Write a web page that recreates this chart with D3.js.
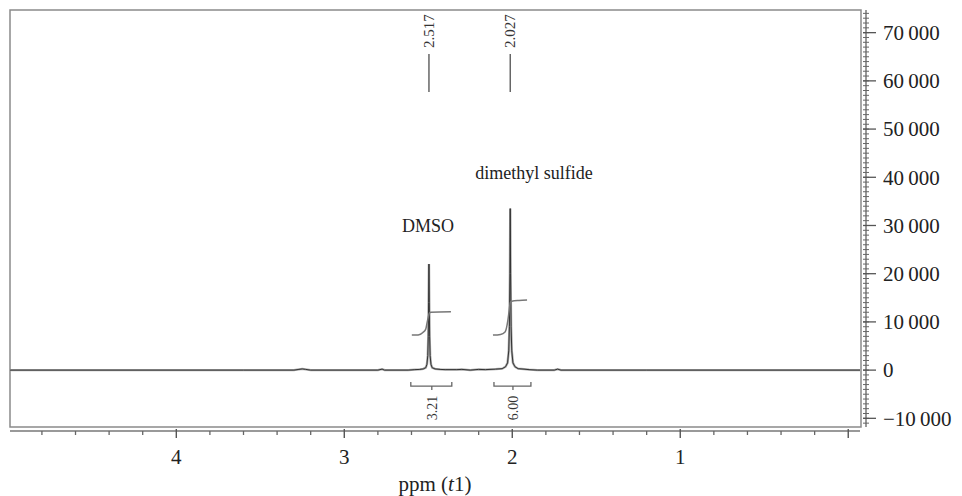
<!DOCTYPE html>
<html>
<head>
<meta charset="utf-8">
<script src="https://cdn.jsdelivr.net/npm/d3@7"></script>
<style>
	body { margin: 0; background: #fff; }
	svg { display: block; font-family: "Liberation Serif", "Times New Roman", serif; }
</style>
</head>
<body>
<svg width="962" height="496"></svg>
<script>
// spectrum points: [ppm, intensity]
const spectrum = [
	[4.99, 0], [3.60, 0], [3.30, 0], [3.27, 150], [3.25, 250], [3.23, 150], [3.20, 0],
	[2.80, 0], [2.775, 200], [2.76, 0], [2.62, 0], [2.58, 100], [2.55, 150], [2.53, 250],
	[2.515, 500], [2.508, 1200], [2.503, 3000], [2.500, 7000], [2.498, 14000],
	[2.496, 22000], [2.494, 14000], [2.492, 7000], [2.489, 3000], [2.484, 1200],
	[2.477, 500], [2.46, 250], [2.43, 150], [2.40, 100], [2.33, 100], [2.30, 150],
	[2.25, 0], [2.20, 150], [2.16, 100], [2.10, 200], [2.06, 300], [2.04, 700],
	[2.028, 1500], [2.021, 4000], [2.017, 9000], [2.014, 20000], [2.012, 33500],
	[2.010, 20000], [2.007, 9000], [2.003, 4000], [1.996, 1500], [1.984, 700],
	[1.965, 300], [1.93, 200], [1.90, 100], [1.85, 0], [1.75, 0], [1.73, 200],
	[1.71, 0], [1.20, 0], [-0.07, 0]
];

// integral curves: [ppm, value]
const integralDMSO = [
	[2.598, 7260], [2.56, 7300], [2.532, 7800], [2.515, 8500], [2.508, 9700],
	[2.50, 11000], [2.494, 11800], [2.485, 12000], [2.365, 12100]
];
const integralDMS = [
	[2.115, 7260], [2.07, 7400], [2.043, 7900], [2.026, 10370], [2.018, 12500],
	[2.012, 14000], [2.003, 14300], [1.96, 14450], [1.912, 14520]
];

// integration regions below the baseline
const regions = [
	{ from: 2.604, to: 2.360, mid: 2.479, label: "3.21" },
	{ from: 2.109, to: 1.889, mid: 1.996, label: "6.00" }
];

// peak pick labels
const peakPos = [2.496, 2.012];
const peakLabels = ["2.517", "2.027"];

// compound names
const compounds = [
	{ ppm: 2.502, value: 28600, name: "DMSO" },
	{ ppm: 1.871, value: 39600, name: "dimethyl sulfide" }
];

const xTickValues = [4, 3, 2, 1, 0];
const xTickLabels = ["4", "3", "2", "1", ""];
const yTickValues = [-10000, 0, 10000, 20000, 30000, 40000, 50000, 60000, 70000];

const svg = d3.select("svg");
const pLeft = 10, pRight = 861, pTop = 10, pBottom = 427;

const x = d3.scaleLinear().domain([4.99, -0.07]).range([pLeft, 860]);
const y = d3.scaleLinear().domain([-11800, 74700]).range([pBottom, pTop]);

const fmt = d3.formatLocale({
	decimal: ".", thousands: "\u2009", grouping: [3], currency: ["", ""], minus: "\u2212"
}).format(",d");

//frame
svg.append("rect")
	.attr("x", pLeft).attr("y", pTop)
	.attr("width", pRight - pLeft).attr("height", pBottom - pTop)
	.attr("fill", "none").attr("stroke", "#8a8a8a").attr("stroke-width", 1.5);

//spectrum line, a soft grey underlay then the dark trace
const line = d3.line().x(d => x(d[0])).y(d => y(d[1]));

svg.append("path")
	.datum(spectrum)
	.attr("d", line)
	.attr("fill", "none")
	.attr("stroke", "#aaa")
	.attr("stroke-width", 2.4);

svg.append("path")
	.datum(spectrum)
	.attr("d", line)
	.attr("fill", "none")
	.attr("stroke", "#333")
	.attr("stroke-width", 1);

//integrals
const curve = d3.line().x(d => x(d[0])).y(d => y(d[1])).curve(d3.curveMonotoneX);
[integralDMSO, integralDMS].forEach(function(d) {
	svg.append("path")
		.datum(d)
		.attr("d", curve)
		.attr("fill", "none")
		.attr("stroke", "#777")
		.attr("stroke-width", 1.5);
});

//integration brackets
const by = y(0) + 16;
const brk = svg.append("g").attr("stroke", "#666").attr("stroke-width", 1.3).attr("fill", "none");
regions.forEach(function(r) {
	brk.append("path")
		.attr("d", `M${x(r.from)},${by - 4}V${by}H${x(r.to)}V${by - 4}M${x(r.mid)},${by}V${by + 4}`);
	svg.append("text")
		.attr("transform", `translate(${x(r.mid) + 5},${by + 22}) rotate(-90)`)
		.attr("text-anchor", "middle")
		.attr("font-size", 14)
		.attr("fill", "#333")
		.text(r.label);
});

//peak labels at top
peakPos.forEach(function(p, i) {
	svg.append("line")
		.attr("x1", x(p)).attr("x2", x(p))
		.attr("y1", 54).attr("y2", 92)
		.attr("stroke", "#666").attr("stroke-width", 1.5);
	svg.append("text")
		.attr("transform", `translate(${x(p) + 5},${31}) rotate(-90)`)
		.attr("text-anchor", "middle")
		.attr("font-size", 15)
		.attr("fill", "#333")
		.text(peakLabels[i]);
});

//compound names
svg.selectAll("text.name")
	.data(compounds)
	.enter().append("text")
	.attr("class", "name")
	.attr("x", d => x(d.ppm))
	.attr("y", d => y(d.value))
	.attr("text-anchor", "middle")
	.attr("font-size", 18)
	.attr("fill", "#222")
	.text(d => d.name);

//x axis
const xa = svg.append("g");
const ay = 431;
xa.append("line")
	.attr("x1", pLeft).attr("x2", 860).attr("y1", ay).attr("y2", ay)
	.attr("stroke", "#777").attr("stroke-width", 1.5);
const xMinor = d3.range(48, -1, -2).map(v => v / 10).filter(v => !Number.isInteger(v));
xa.selectAll("line.minor").data(xMinor).enter().append("line")
	.attr("x1", d => x(d)).attr("x2", d => x(d))
	.attr("y1", ay).attr("y2", ay + 4)
	.attr("stroke", "#666").attr("stroke-width", 1.3);
xa.selectAll("line.major").data(xTickValues).enter().append("line")
	.attr("x1", d => x(d)).attr("x2", d => x(d))
	.attr("y1", ay - 2).attr("y2", ay + 7)
	.attr("stroke", "#555").attr("stroke-width", 1.4);
xa.selectAll("text").data(xTickValues).enter().append("text")
	.attr("x", d => x(d))
	.attr("y", 464)
	.attr("text-anchor", "middle")
	.attr("font-size", 21)
	.attr("fill", "#222")
	.text((d, i) => xTickLabels[i]);

const xt = svg.append("text")
	.attr("x", (pLeft + 860) / 2)
	.attr("y", 491)
	.attr("text-anchor", "middle")
	.attr("font-size", 21)
	.attr("fill", "#222");
xt.append("tspan").text("ppm (");
xt.append("tspan").attr("font-style", "italic").text("t");
xt.append("tspan").text("1)");

//y axis
const ya = svg.append("g");
const ax = 866;
ya.append("line")
	.attr("x1", ax).attr("x2", ax).attr("y1", pTop).attr("y2", pBottom)
	.attr("stroke", "#777").attr("stroke-width", 1.5);
const yMinor = d3.range(-11000, 75000, 1000);
ya.selectAll("line.minor").data(yMinor).enter().append("line")
	.attr("x1", ax - 3).attr("x2", ax + 3)
	.attr("y1", d => y(d)).attr("y2", d => y(d))
	.attr("stroke", "#666").attr("stroke-width", 1);
ya.selectAll("line.major").data(yTickValues).enter().append("line")
	.attr("x1", ax - 3).attr("x2", ax + 10)
	.attr("y1", d => y(d)).attr("y2", d => y(d))
	.attr("stroke", "#555").attr("stroke-width", 1.3);
ya.selectAll("text").data(yTickValues).enter().append("text")
	.attr("x", 883)
	.attr("y", d => y(d))
	.attr("dy", "0.35em")
	.attr("font-size", 21)
	.attr("fill", "#222")
	.text(d => fmt(d));
</script>
</body>
</html>
